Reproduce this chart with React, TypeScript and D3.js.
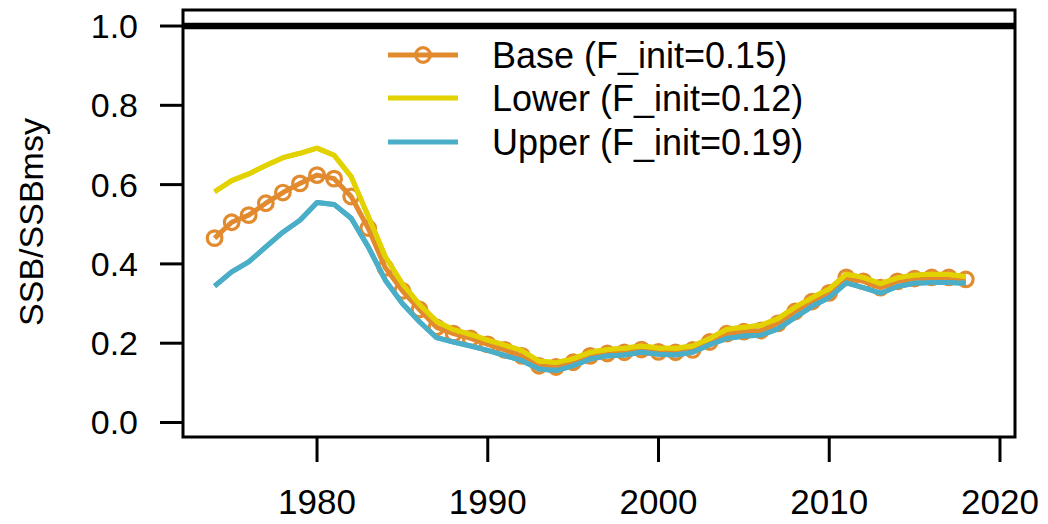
import React from "react";
import * as d3 from "d3";

const years = [1974,1975,1976,1977,1978,1979,1980,1981,1982,1983,1984,1985,1986,1987,1988,1989,1990,1991,1992,1993,1994,1995,1996,1997,1998,1999,2000,2001,2002,2003,2004,2005,2006,2007,2008,2009,2010,2011,2012,2013,2014,2015,2016,2017,2018];

const baseValues = [0.465,0.505,0.523,0.553,0.580,0.603,0.624,0.615,0.570,0.490,0.390,0.332,0.285,0.240,0.224,0.212,0.197,0.183,0.168,0.143,0.140,0.152,0.168,0.174,0.177,0.184,0.178,0.177,0.183,0.203,0.224,0.229,0.232,0.250,0.280,0.305,0.327,0.366,0.356,0.340,0.356,0.363,0.366,0.366,0.361];

const lowerValues = [0.582,0.610,0.627,0.648,0.668,0.679,0.692,0.674,0.620,0.520,0.418,0.350,0.298,0.255,0.234,0.222,0.208,0.195,0.181,0.155,0.151,0.161,0.177,0.184,0.187,0.193,0.188,0.187,0.193,0.212,0.235,0.240,0.245,0.262,0.291,0.315,0.337,0.374,0.366,0.350,0.365,0.372,0.374,0.373,0.368];

const upperValues = [0.344,0.380,0.405,0.443,0.480,0.510,0.555,0.550,0.515,0.443,0.359,0.300,0.254,0.214,0.203,0.193,0.182,0.169,0.156,0.135,0.131,0.143,0.160,0.168,0.170,0.177,0.172,0.170,0.177,0.196,0.212,0.218,0.220,0.236,0.265,0.293,0.315,0.352,0.340,0.326,0.343,0.351,0.353,0.353,0.351];

const xTicks = [1980, 1990, 2000, 2010, 2020];
const yTicks = [0.0, 0.2, 0.4, 0.6, 0.8, 1.0];
const refLine = 1.0;

const seriesNames = ["Base (F_init=0.15)", "Lower (F_init=0.12)", "Upper (F_init=0.19)"];
const seriesColors = ["#E28B2E", "#E1D200", "#4AAEC9"];

const W = 1048, H = 524;
const FONT = "'Liberation Sans', Arial, Helvetica, sans-serif";

export default function App() {
  const x = d3.scaleLinear().domain([1972.15, 2020.88]).range([183, 1015]);
  const y = d3.scaleLinear().domain([-0.0366, 1.0404]).range([437, 10]);
  const left = x.range()[0], right = x.range()[1];
  const bottom = y.range()[0], top = y.range()[1];

  const line = d3.line<number>().x((_, i) => x(years[i])).y(v => y(v));
  const series = [baseValues, lowerValues, upperValues];

  const legendY = [55, 98, 142];

  return (
    <svg width={W} height={H} style={{ position: "absolute", left: 0, top: 0, background: "#fff" }} fontFamily={FONT}>
      <rect x={0} y={0} width={W} height={H} fill="#fff" />
      {series.map((vals, si) => (
        <path key={si} d={line(vals) || ""} fill="none" stroke={seriesColors[si]} strokeWidth={5} strokeLinejoin="round" />
      ))}
      {baseValues.map((v, i) => (
        <circle key={i} cx={x(years[i])} cy={y(v)} r={7.3} fill="none" stroke={seriesColors[0]} strokeWidth={3.2} />
      ))}
      {series.slice(1).map((vals, si) => (
        <path key={"t" + si} d={line(vals) || ""} fill="none" stroke={seriesColors[si + 1]} strokeWidth={5} strokeLinejoin="round" />
      ))}
      <line x1={left} x2={right} y1={y(refLine)} y2={y(refLine)} stroke="#000" strokeWidth={6.5} />
      <rect x={left} y={top} width={right - left} height={bottom - top} fill="none" stroke="#000" strokeWidth={3} />
      {yTicks.map(t => (
        <g key={t}>
          <line x1={160} x2={left} y1={y(t)} y2={y(t)} stroke="#000" strokeWidth={3} />
          <text x={138} y={y(t)} dy="0.35em" textAnchor="end" fontSize={34} fill="#000">{d3.format(".1f")(t)}</text>
        </g>
      ))}
      {xTicks.map(t => (
        <g key={t}>
          <line x1={x(t)} x2={x(t)} y1={bottom} y2={462} stroke="#000" strokeWidth={3} />
          <text x={x(t)} y={514} textAnchor="middle" fontSize={35} fill="#000">{t}</text>
        </g>
      ))}
      <text transform={`translate(43,222) rotate(-90)`} textAnchor="middle" fontSize={34} fill="#000">SSB/SSBmsy</text>
      {seriesNames.map((name, i) => (
        <g key={name}>
          <line x1={388} x2={458} y1={legendY[i]} y2={legendY[i]} stroke={seriesColors[i]} strokeWidth={5} />
          {i === 0 && <circle cx={423} cy={legendY[i]} r={7.3} fill="none" stroke={seriesColors[0]} strokeWidth={3.2} />}
          <text x={492} y={legendY[i]} dy="0.35em" fontSize={36} fill="#000">{name}</text>
        </g>
      ))}
    </svg>
  );
}
